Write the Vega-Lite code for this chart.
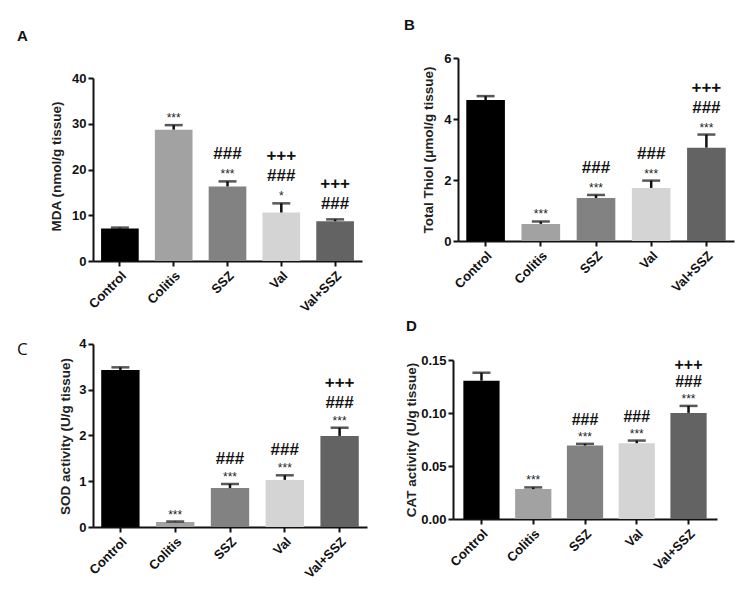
{
  "$schema": "https://vega.github.io/schema/vega-lite/v6.json",
  "background": "white",
  "padding": {"left": 17, "top": 18, "right": 5, "bottom": 5},
  "config": {
    "view": {"stroke": null},
    "font": "Liberation Sans",
    "axis": {"domainColor": "#111", "domainWidth": 2, "tickColor": "#111", "tickWidth": 2, "tickSize": 5, "labelColor": "#111", "labelFont": "Liberation Sans", "labelFontWeight": "bold", "labelFontSize": 13, "titleFont": "Liberation Sans", "titleFontWeight": "bold", "titleFontSize": 13.5, "titleColor": "#222", "grid": false},
    "axisX": {"labelAngle": -45, "title": null, "labelPadding": 3},
    "title": {"font": "Liberation Sans", "fontWeight": "bold", "fontSize": 15, "color": "#111", "anchor": "start", "frame": "group"}
  },
  "datasets": {
    "bars": [
      {"panel": "A", "group": "Control", "mean": 7.1, "hi": 7.3, "stars": "", "hash": "", "plus": ""},
      {"panel": "A", "group": "Colitis", "mean": 28.7, "hi": 29.7, "stars": "***", "hash": "", "plus": ""},
      {"panel": "A", "group": "SSZ", "mean": 16.3, "hi": 17.4, "stars": "***", "hash": "###", "plus": ""},
      {"panel": "A", "group": "Val", "mean": 10.6, "hi": 12.6, "stars": "*", "hash": "###", "plus": "+++"},
      {"panel": "A", "group": "Val+SSZ", "mean": 8.7, "hi": 9.1, "stars": "", "hash": "###", "plus": "+++"},
      {"panel": "B", "group": "Control", "mean": 4.62, "hi": 4.75, "stars": "", "hash": "", "plus": ""},
      {"panel": "B", "group": "Colitis", "mean": 0.56, "hi": 0.64, "stars": "***", "hash": "", "plus": ""},
      {"panel": "B", "group": "SSZ", "mean": 1.41, "hi": 1.51, "stars": "***", "hash": "###", "plus": ""},
      {"panel": "B", "group": "Val", "mean": 1.74, "hi": 1.98, "stars": "***", "hash": "###", "plus": ""},
      {"panel": "B", "group": "Val+SSZ", "mean": 3.06, "hi": 3.49, "stars": "***", "hash": "###", "plus": "+++"},
      {"panel": "C", "group": "Control", "mean": 3.43, "hi": 3.49, "stars": "", "hash": "", "plus": ""},
      {"panel": "C", "group": "Colitis", "mean": 0.11, "hi": 0.12, "stars": "***", "hash": "", "plus": ""},
      {"panel": "C", "group": "SSZ", "mean": 0.85, "hi": 0.94, "stars": "***", "hash": "###", "plus": ""},
      {"panel": "C", "group": "Val", "mean": 1.03, "hi": 1.13, "stars": "***", "hash": "###", "plus": ""},
      {"panel": "C", "group": "Val+SSZ", "mean": 1.99, "hi": 2.17, "stars": "***", "hash": "###", "plus": "+++"},
      {"panel": "D", "group": "Control", "mean": 0.1305, "hi": 0.138, "stars": "", "hash": "", "plus": ""},
      {"panel": "D", "group": "Colitis", "mean": 0.0282, "hi": 0.0298, "stars": "***", "hash": "", "plus": ""},
      {"panel": "D", "group": "SSZ", "mean": 0.0693, "hi": 0.0709, "stars": "***", "hash": "###", "plus": ""},
      {"panel": "D", "group": "Val", "mean": 0.0715, "hi": 0.074, "stars": "***", "hash": "###", "plus": ""},
      {"panel": "D", "group": "Val+SSZ", "mean": 0.1001, "hi": 0.1067, "stars": "***", "hash": "###", "plus": "+++"}
    ]
  },
  "data": {"name": "bars"},
  "columns": 2,
  "align": "none",
  "spacing": {"row": 4, "column": 37},
  "resolve": {"scale": {"x": "independent", "y": "independent"}},
  "concat": [
    {
      "width": 269, "height": 203,
      "title": {"text": "A", "dx": -76, "offset": 14},
      "transform": [{"filter": "datum.panel === 'A'"}],
      "encoding": {"x": {"field": "group", "type": "nominal", "sort": ["Control", "Colitis", "SSZ", "Val", "Val+SSZ"], "scale": {"paddingInner": 0.3, "paddingOuter": 0.15}}},
      "layer": [
        {"mark": {"type": "bar"}, "encoding": {"y": {"field": "mean", "type": "quantitative", "title": "MDA (nmol/g tissue)", "scale": {"domain": [0, 44.372], "nice": false}, "axis": {"values": [0, 10, 20, 30, 40], "titlePadding": 8, "domainDash": [183, 60], "titleY": 108}}, "color": {"field": "group", "type": "nominal", "legend": null, "scale": {"domain": ["Control", "Colitis", "SSZ", "Val", "Val+SSZ"], "range": ["#000000", "#a2a2a2", "#828282", "#d4d4d4", "#636363"]}}}},
        {"mark": {"type": "rule", "strokeWidth": 2.5, "color": "#111"}, "encoding": {"y": {"field": "mean", "type": "quantitative", "title": "MDA (nmol/g tissue)"}, "y2": {"field": "hi"}}},
        {"mark": {"type": "tick", "size": 18, "thickness": 2.5, "color": "#111"}, "encoding": {"y": {"field": "hi", "type": "quantitative", "title": "MDA (nmol/g tissue)"}}},
        {"transform": [{"filter": "datum.stars != ''"}], "mark": {"type": "text", "dy": -7, "fontSize": 12, "color": "#222", "baseline": "middle"}, "encoding": {"y": {"field": "hi", "type": "quantitative", "title": "MDA (nmol/g tissue)"}, "text": {"field": "stars"}}},
        {"transform": [{"filter": "datum.stars != '' && datum.hash != ''"}], "mark": {"type": "text", "dy": -27, "fontSize": 17, "fontWeight": "bold", "color": "#111", "baseline": "middle"}, "encoding": {"y": {"field": "hi", "type": "quantitative", "title": "MDA (nmol/g tissue)"}, "text": {"field": "hash"}}},
        {"transform": [{"filter": "datum.stars == '' && datum.hash != ''"}], "mark": {"type": "text", "dy": -15, "fontSize": 17, "fontWeight": "bold", "color": "#111", "baseline": "middle"}, "encoding": {"y": {"field": "hi", "type": "quantitative", "title": "MDA (nmol/g tissue)"}, "text": {"field": "hash"}}},
        {"transform": [{"filter": "datum.stars != '' && datum.plus != ''"}], "mark": {"type": "text", "dy": -47, "fontSize": 17, "fontWeight": "bold", "color": "#111", "baseline": "middle"}, "encoding": {"y": {"field": "hi", "type": "quantitative", "title": "MDA (nmol/g tissue)"}, "text": {"field": "plus"}}},
        {"transform": [{"filter": "datum.stars == '' && datum.plus != ''"}], "mark": {"type": "text", "dy": -35, "fontSize": 17, "fontWeight": "bold", "color": "#111", "baseline": "middle"}, "encoding": {"y": {"field": "hi", "type": "quantitative", "title": "MDA (nmol/g tissue)"}, "text": {"field": "plus"}}}
      ]
    },
    {
      "width": 276, "height": 183,
      "title": {"text": "B", "dx": -54, "offset": 19},
      "transform": [{"filter": "datum.panel === 'B'"}],
      "encoding": {"x": {"field": "group", "type": "nominal", "sort": ["Control", "Colitis", "SSZ", "Val", "Val+SSZ"], "scale": {"paddingInner": 0.3, "paddingOuter": 0.15}}},
      "layer": [
        {"mark": {"type": "bar"}, "encoding": {"y": {"field": "mean", "type": "quantitative", "title": "Total Thiol (μmol/g tissue)", "scale": {"domain": [0, 6], "nice": false}, "axis": {"values": [0, 2, 4, 6], "titlePadding": 8}}, "color": {"field": "group", "type": "nominal", "legend": null, "scale": {"domain": ["Control", "Colitis", "SSZ", "Val", "Val+SSZ"], "range": ["#000000", "#a2a2a2", "#828282", "#d4d4d4", "#636363"]}}}},
        {"mark": {"type": "rule", "strokeWidth": 2.5, "color": "#111"}, "encoding": {"y": {"field": "mean", "type": "quantitative", "title": "Total Thiol (μmol/g tissue)"}, "y2": {"field": "hi"}}},
        {"mark": {"type": "tick", "size": 18, "thickness": 2.5, "color": "#111"}, "encoding": {"y": {"field": "hi", "type": "quantitative", "title": "Total Thiol (μmol/g tissue)"}}},
        {"transform": [{"filter": "datum.stars != ''"}], "mark": {"type": "text", "dy": -7, "fontSize": 12, "color": "#222", "baseline": "middle"}, "encoding": {"y": {"field": "hi", "type": "quantitative", "title": "Total Thiol (μmol/g tissue)"}, "text": {"field": "stars"}}},
        {"transform": [{"filter": "datum.stars != '' && datum.hash != ''"}], "mark": {"type": "text", "dy": -27, "fontSize": 17, "fontWeight": "bold", "color": "#111", "baseline": "middle"}, "encoding": {"y": {"field": "hi", "type": "quantitative", "title": "Total Thiol (μmol/g tissue)"}, "text": {"field": "hash"}}},
        {"transform": [{"filter": "datum.stars != '' && datum.plus != ''"}], "mark": {"type": "text", "dy": -47, "fontSize": 17, "fontWeight": "bold", "color": "#111", "baseline": "middle"}, "encoding": {"y": {"field": "hi", "type": "quantitative", "title": "Total Thiol (μmol/g tissue)"}, "text": {"field": "plus"}}}
      ]
    },
    {
      "width": 274, "height": 208,
      "title": {"text": "C", "dx": -76, "offset": -40, "fontWeight": "normal", "fontSize": 17, "font": "Open Sans"},
      "transform": [{"filter": "datum.panel === 'C'"}],
      "encoding": {"x": {"field": "group", "type": "nominal", "sort": ["Control", "Colitis", "SSZ", "Val", "Val+SSZ"], "scale": {"paddingInner": 0.3, "paddingOuter": 0.15}}},
      "layer": [
        {"mark": {"type": "bar"}, "encoding": {"y": {"field": "mean", "type": "quantitative", "title": "SOD activity (U/g tissue)", "scale": {"domain": [0, 4.5464], "nice": false}, "axis": {"values": [0, 1, 2, 3, 4], "titlePadding": 6, "domainDash": [183, 60], "titleY": 117}}, "color": {"field": "group", "type": "nominal", "legend": null, "scale": {"domain": ["Control", "Colitis", "SSZ", "Val", "Val+SSZ"], "range": ["#000000", "#a2a2a2", "#828282", "#d4d4d4", "#636363"]}}}},
        {"mark": {"type": "rule", "strokeWidth": 2.5, "color": "#111"}, "encoding": {"y": {"field": "mean", "type": "quantitative", "title": "SOD activity (U/g tissue)"}, "y2": {"field": "hi"}}},
        {"mark": {"type": "tick", "size": 18, "thickness": 2.5, "color": "#111"}, "encoding": {"y": {"field": "hi", "type": "quantitative", "title": "SOD activity (U/g tissue)"}}},
        {"transform": [{"filter": "datum.stars != ''"}], "mark": {"type": "text", "dy": -7, "fontSize": 12, "color": "#222", "baseline": "middle"}, "encoding": {"y": {"field": "hi", "type": "quantitative", "title": "SOD activity (U/g tissue)"}, "text": {"field": "stars"}}},
        {"transform": [{"filter": "datum.stars != '' && datum.hash != ''"}], "mark": {"type": "text", "dy": -25, "fontSize": 17, "fontWeight": "bold", "color": "#111", "baseline": "middle"}, "encoding": {"y": {"field": "hi", "type": "quantitative", "title": "SOD activity (U/g tissue)"}, "text": {"field": "hash"}}},
        {"transform": [{"filter": "datum.stars != '' && datum.plus != ''"}], "mark": {"type": "text", "dy": -45, "fontSize": 17, "fontWeight": "bold", "color": "#111", "baseline": "middle"}, "encoding": {"y": {"field": "hi", "type": "quantitative", "title": "SOD activity (U/g tissue)"}, "text": {"field": "plus"}}}
      ]
    },
    {
      "width": 264, "height": 159,
      "title": {"text": "D", "dx": -47, "offset": 20},
      "transform": [{"filter": "datum.panel === 'D'"}],
      "encoding": {"x": {"field": "group", "type": "nominal", "sort": ["Control", "Colitis", "SSZ", "Val", "Val+SSZ"], "scale": {"paddingInner": 0.3, "paddingOuter": 0.2}}},
      "layer": [
        {"mark": {"type": "bar"}, "encoding": {"y": {"field": "mean", "type": "quantitative", "title": "CAT activity (U/g tissue)", "scale": {"domain": [0, 0.15], "nice": false}, "axis": {"values": [0, 0.05, 0.1, 0.15], "format": ".2f", "titlePadding": 2}}, "color": {"field": "group", "type": "nominal", "legend": null, "scale": {"domain": ["Control", "Colitis", "SSZ", "Val", "Val+SSZ"], "range": ["#000000", "#a2a2a2", "#828282", "#d4d4d4", "#636363"]}}}},
        {"mark": {"type": "rule", "strokeWidth": 2.5, "color": "#111"}, "encoding": {"y": {"field": "mean", "type": "quantitative", "title": "CAT activity (U/g tissue)"}, "y2": {"field": "hi"}}},
        {"mark": {"type": "tick", "size": 18, "thickness": 2.5, "color": "#111"}, "encoding": {"y": {"field": "hi", "type": "quantitative", "title": "CAT activity (U/g tissue)"}}},
        {"transform": [{"filter": "datum.stars != ''"}], "mark": {"type": "text", "dy": -7, "fontSize": 12, "color": "#222", "baseline": "middle"}, "encoding": {"y": {"field": "hi", "type": "quantitative", "title": "CAT activity (U/g tissue)"}, "text": {"field": "stars"}}},
        {"transform": [{"filter": "datum.stars != '' && datum.hash != ''"}], "mark": {"type": "text", "dy": -24, "fontSize": 16, "fontWeight": "bold", "color": "#111", "baseline": "middle"}, "encoding": {"y": {"field": "hi", "type": "quantitative", "title": "CAT activity (U/g tissue)"}, "text": {"field": "hash"}}},
        {"transform": [{"filter": "datum.stars != '' && datum.plus != ''"}], "mark": {"type": "text", "dy": -41, "fontSize": 16, "fontWeight": "bold", "color": "#111", "baseline": "middle"}, "encoding": {"y": {"field": "hi", "type": "quantitative", "title": "CAT activity (U/g tissue)"}, "text": {"field": "plus"}}}
      ]
    }
  ]
}
